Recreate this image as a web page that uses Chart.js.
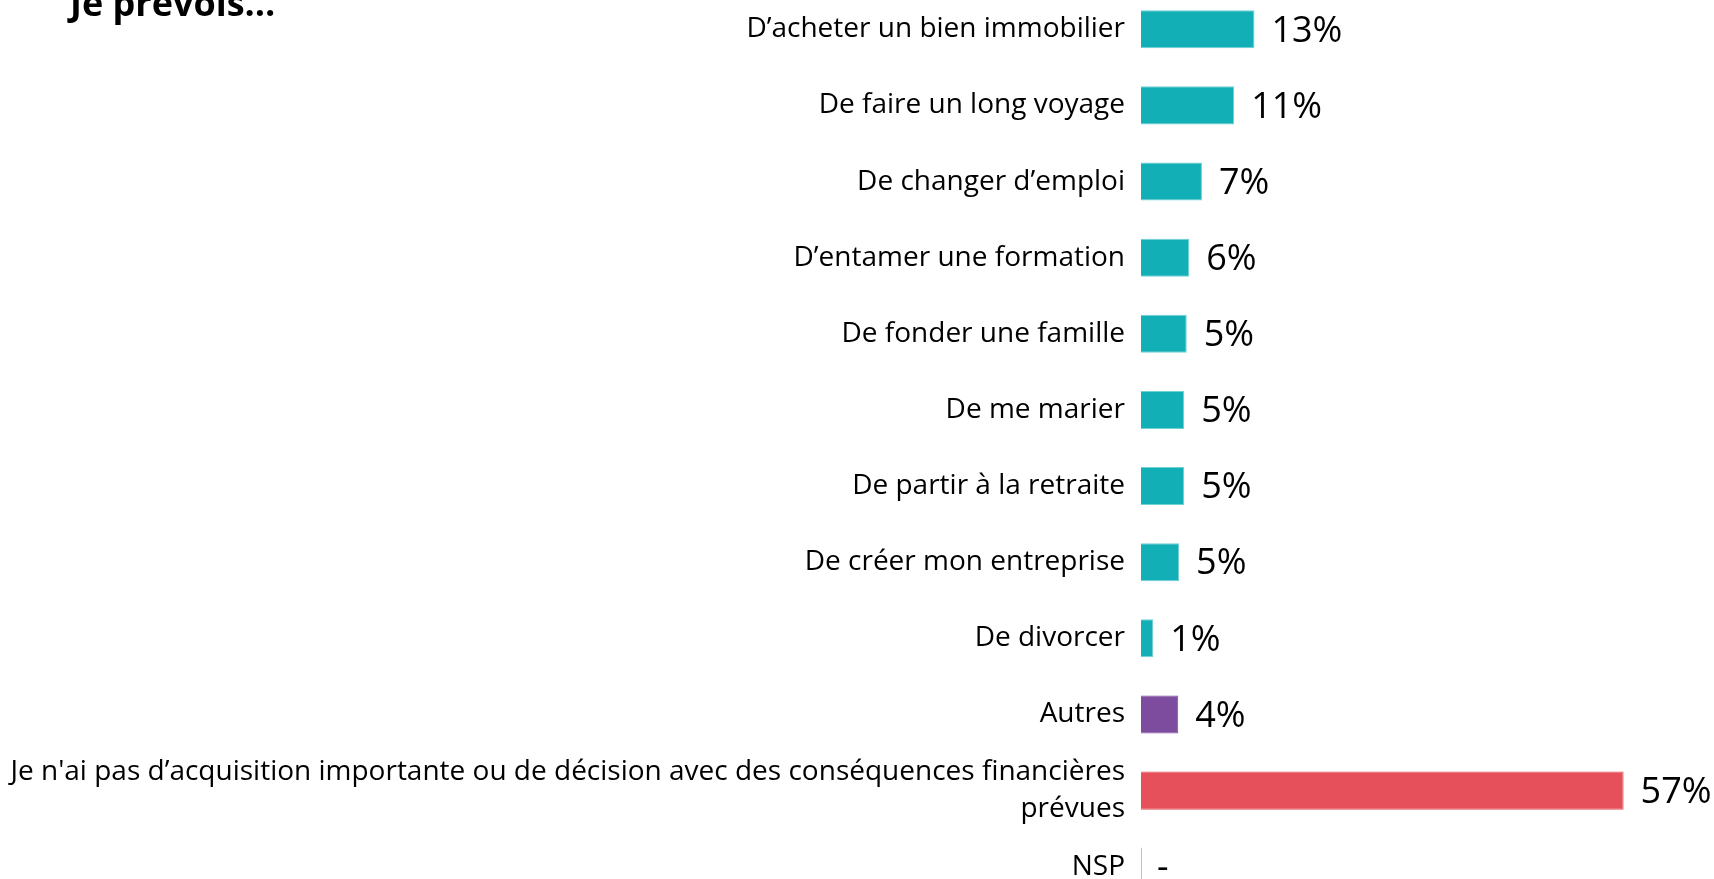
<!DOCTYPE html>
<html lang="fr">
<head>
<meta charset="utf-8">
<title>Je prévois...</title>
<script src="https://cdn.jsdelivr.net/npm/chart.js@4"></script>
<style>
    html, body { margin: 0; padding: 0; background: #fff; overflow: hidden; }
    #zone { position: absolute; left: 0; top: -43px; width: 1714px; height: 982px; }
</style>
</head>
<body>
<div id="zone"><canvas id="graphe" width="1714" height="982"></canvas></div>
<script>
// Données du graphe
const categories = [
    'D’acheter un bien immobilier',
    'De faire un long voyage',
    'De changer d’emploi',
    'D’entamer une formation',
    'De fonder une famille',
    'De me marier',
    'De partir à la retraite',
    'De créer mon entreprise',
    'De divorcer',
    'Autres',
    ["Je n'ai pas d’acquisition importante ou de décision avec des conséquences financières", 'prévues'],
    'NSP'
];
const valeurs = [13.4, 11.0, 7.2, 5.7, 5.4, 5.1, 5.1, 4.5, 1.45, 4.4, 57, 0];
const groupes = ['liste', 'liste', 'liste', 'liste', 'liste', 'liste', 'liste', 'liste', 'liste', 'autres', 'aucun', 'nsp'];
const titre = 'Je prévois…';

window.addEventListener('DOMContentLoaded', function(){
    const police = "'Open Sans', 'Noto Sans', sans-serif";
    const couleurs = {liste: '#13AFB7', autres: '#7E4C9E', aucun: '#E5505A', nsp: '#BFBFBF'};

    // Titre + étiquettes de valeurs
    const etiquettes = {
        id: 'etiquettes',
        afterDatasetsDraw(chart) {
            const ctx = chart.ctx;
            const meta = chart.getDatasetMeta(0);
            const x0 = chart.scales.x.getPixelForValue(0);
            ctx.save();
            ctx.fillStyle = '#000';
            ctx.font = 'bold 36px ' + police;
            ctx.textAlign = 'left';
            ctx.textBaseline = 'alphabetic';
            ctx.fillText(titre, 70, 59);

            ctx.font = '36px ' + police;
            ctx.textBaseline = 'middle';
            meta.data.forEach(function(barre, i){
                const v = valeurs[i];
                if (v === 0) {
                    // trait gris pour une valeur nulle
                    ctx.strokeStyle = couleurs.nsp;
                    ctx.lineWidth = 1;
                    ctx.beginPath();
                    ctx.moveTo(x0 + 0.5, barre.y - barre.height / 2);
                    ctx.lineTo(x0 + 0.5, barre.y + barre.height / 2);
                    ctx.stroke();
                    ctx.fillText('-', x0 + 16, barre.y + 2);
                } else {
                    ctx.fillText(Math.round(v) + '%', barre.x + 17, barre.y + 2);
                }
            });
            ctx.restore();
        }
    };

    const data = {
        labels: categories,
        datasets: [{
            data: valeurs,
            backgroundColor: groupes.map(g => couleurs[g]),
            borderColor: groupes.map(g => g === 'liste' ? '#6FD0D5' : couleurs[g]),
            borderWidth: 1,
            barPercentage: 0.5,
            categoryPercentage: 1
        }]
    };

    const config = {
        type: 'bar',
        data: data,
        options: {
            indexAxis: 'y',
            responsive: false,
            animation: false,
            layout: {
                padding: {left: 0, right: 65, top: 27, bottom: 16}
            },
            plugins: {
                legend: {display: false},
                tooltip: {enabled: false}
            },
            scales: {
                x: {
                    display: false,
                    min: 0,
                    max: 60
                },
                y: {
                    grid: {display: false, drawTicks: false},
                    border: {display: false},
                    afterFit: function(axe){ axe.width = 1141; },
                    ticks: {
                        padding: 16,
                        color: '#000',
                        font: {family: police, size: 28, lineHeight: 1.3}
                    }
                }
            }
        },
        plugins: [etiquettes]
    };

    new Chart(document.getElementById('graphe'), config);
});
</script>
</body>
</html>
